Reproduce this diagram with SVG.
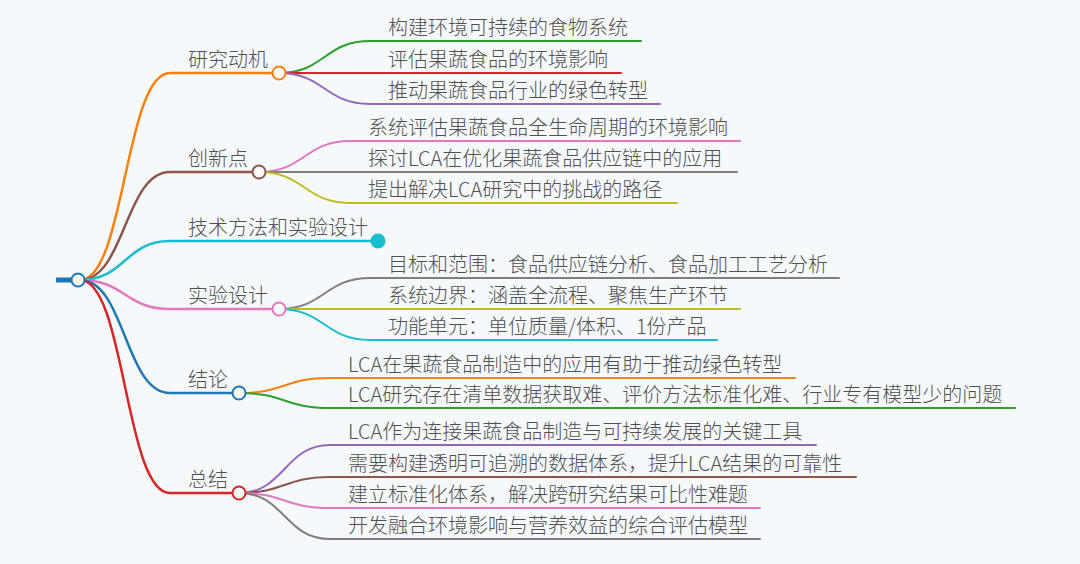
<svg xmlns="http://www.w3.org/2000/svg" width="1080" height="564" viewBox="0 0 1080 564">
<style>
.t{font-family:"Noto Sans CJK SC","Noto Sans",sans-serif;font-size:20px;font-weight:300;fill:#505050}
.l1{fill:none;stroke-width:2.5;stroke-linecap:round}
.l2{fill:none;stroke-width:2;stroke-linecap:round}
.c{fill:#fff;stroke-width:2}
</style>
<rect width="1080" height="564" fill="#f6f9fc"/>
<g id="connectors">
  <line x1="56" y1="280" x2="78" y2="280" stroke="#1f77b4" stroke-width="5"/>
  <path class="l1" stroke="#ff7f0e" d="M80,280 C125,280 125,73 170,73 L279,73"/>
  <path class="l1" stroke="#8c564b" d="M80,280 C125,280 125,172 170,172 L259,172"/>
  <path class="l1" stroke="#17becf" d="M80,280 C125,280 125,241 170,241 L378,241"/>
  <path class="l1" stroke="#e377c2" d="M80,280 C125,280 125,309 170,309 L279,309"/>
  <path class="l1" stroke="#1f77b4" d="M80,280 C125,280 125,393 170,393 L239,393"/>
  <path class="l1" stroke="#d62728" d="M80,280 C125,280 125,493 170,493 L239,493"/>
  <path class="l2" stroke="#2ca02c" d="M279,73 C324.5,73 324.5,41 370,41 L641,41"/>
  <path class="l2" stroke="#d62728" d="M279,73 C324.5,73 324.5,73 370,73 L621,73"/>
  <path class="l2" stroke="#9467bd" d="M279,73 C324.5,73 324.5,104 370,104 L660,104"/>
  <path class="l2" stroke="#e377c2" d="M259,172 C304.5,172 304.5,141 350,141 L740,141"/>
  <path class="l2" stroke="#7f7f7f" d="M259,172 C304.5,172 304.5,172 350,172 L737,172"/>
  <path class="l2" stroke="#bcbd22" d="M259,172 C304.5,172 304.5,203 350,203 L677,203"/>
  <path class="l2" stroke="#7f7f7f" d="M279,309 C324.5,309 324.5,278 370,278 L839,278"/>
  <path class="l2" stroke="#bcbd22" d="M279,309 C324.5,309 324.5,309 370,309 L740,309"/>
  <path class="l2" stroke="#17becf" d="M279,309 C324.5,309 324.5,340 370,340 L717,340"/>
  <path class="l2" stroke="#ff7f0e" d="M239,393 C284.5,393 284.5,378 330,378 L795,378"/>
  <path class="l2" stroke="#2ca02c" d="M239,393 C284.5,393 284.5,408 330,408 L1015,408"/>
  <path class="l2" stroke="#9467bd" d="M239,493 C284.5,493 284.5,445 330,445 L816,445"/>
  <path class="l2" stroke="#8c564b" d="M239,493 C284.5,493 284.5,477 330,477 L856,477"/>
  <path class="l2" stroke="#e377c2" d="M239,493 C284.5,493 284.5,508 330,508 L760,508"/>
  <path class="l2" stroke="#7f7f7f" d="M239,493 C284.5,493 284.5,539 330,539 L760,539"/>
</g>
<g id="root"><circle class="c" cx="78" cy="280" r="6.5" stroke="#1f77b4"/></g>
<g id="n-yjdj"><text class="t" x="188" y="66.5">研究动机</text><circle class="c" cx="279" cy="73" r="6.5" stroke="#ff7f0e"/></g>
<g id="n-yjdj-1"><text class="t" x="388" y="34.5">构建环境可持续的食物系统</text></g>
<g id="n-yjdj-2"><text class="t" x="388" y="66.5">评估果蔬食品的环境影响</text></g>
<g id="n-yjdj-3"><text class="t" x="388" y="97.5">推动果蔬食品行业的绿色转型</text></g>
<g id="n-cxd"><text class="t" x="188" y="165.5">创新点</text><circle class="c" cx="259" cy="172" r="6.5" stroke="#8c564b"/></g>
<g id="n-cxd-1"><text class="t" x="368" y="134.5">系统评估果蔬食品全生命周期的环境影响</text></g>
<g id="n-cxd-2"><text class="t" x="368" y="165.5">探讨LCA在优化果蔬食品供应链中的应用</text></g>
<g id="n-cxd-3"><text class="t" x="368" y="196.5">提出解决LCA研究中的挑战的路径</text></g>
<g id="n-jsff"><text class="t" x="188" y="234.5">技术方法和实验设计</text><circle cx="378" cy="241" r="7.5" fill="#17becf"/></g>
<g id="n-syj"><text class="t" x="188" y="302.5">实验设计</text><circle class="c" cx="279" cy="309" r="6.5" stroke="#e377c2"/></g>
<g id="n-syj-1"><text class="t" x="388" y="271.5">目标和范围：食品供应链分析、食品加工工艺分析</text></g>
<g id="n-syj-2"><text class="t" x="388" y="302.5">系统边界：涵盖全流程、聚焦生产环节</text></g>
<g id="n-syj-3"><text class="t" x="388" y="333.5">功能单元：单位质量/体积、1份产品</text></g>
<g id="n-jl"><text class="t" x="188" y="386.5">结论</text><circle class="c" cx="239" cy="393" r="6.5" stroke="#1f77b4"/></g>
<g id="n-jl-1"><text class="t" x="348" y="371.5">LCA在果蔬食品制造中的应用有助于推动绿色转型</text></g>
<g id="n-jl-2"><text class="t" x="348" y="401.5">LCA研究存在清单数据获取难、评价方法标准化难、行业专有模型少的问题</text></g>
<g id="n-zj"><text class="t" x="188" y="486.5">总结</text><circle class="c" cx="239" cy="493" r="6.5" stroke="#d62728"/></g>
<g id="n-zj-1"><text class="t" x="348" y="438.5">LCA作为连接果蔬食品制造与可持续发展的关键工具</text></g>
<g id="n-zj-2"><text class="t" x="348" y="470.5">需要构建透明可追溯的数据体系，提升LCA结果的可靠性</text></g>
<g id="n-zj-3"><text class="t" x="348" y="501.5">建立标准化体系，解决跨研究结果可比性难题</text></g>
<g id="n-zj-4"><text class="t" x="348" y="532.5">开发融合环境影响与营养效益的综合评估模型</text></g>
</svg>
